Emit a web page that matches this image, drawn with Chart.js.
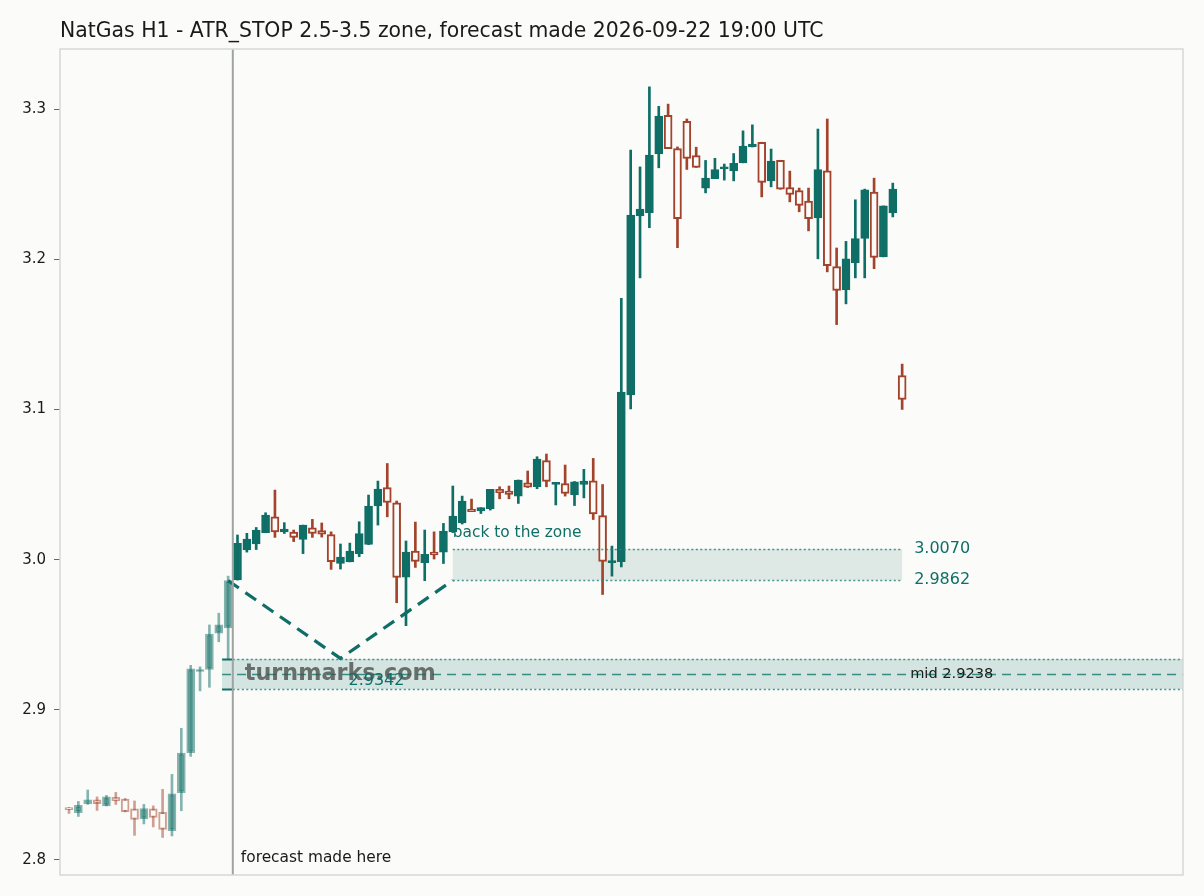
<!DOCTYPE html>
<html>
<head>
<meta charset="utf-8">
<title>NatGas H1 forecast</title>
<script src="https://cdn.jsdelivr.net/npm/chart.js@4.4.1/dist/chart.umd.min.js"></script>
<style>
  html, body { margin: 0; padding: 0; background: #fbfbf9; }
  #wrap { width: 1204px; height: 896px; }
</style>
</head>
<body>
<div id="wrap"><canvas id="natgasChart" width="1204" height="896"></canvas></div>
<script>
// hourly candles, index 0..89 (0..17 = history before the forecast time)
const opens  = [2.8340, 2.8315, 2.8375, 2.8400, 2.8360, 2.8417, 2.8406, 2.8340, 2.8274, 2.8340,
                2.8317, 2.8195, 2.8448, 2.8714, 2.9255, 2.9269, 2.9510, 2.9546, 2.9864, 3.0064,
                3.0104, 3.0179, 3.0285, 3.0185, 3.0184, 3.0134, 3.0212, 3.0194, 3.0167, 2.9975,
                2.9985, 3.0039, 3.0101, 3.0357, 3.0480, 3.0378, 2.9883, 3.0057, 2.9980, 3.0050,
                3.0049, 3.0185, 3.0245, 3.0337, 3.0325, 3.0340, 3.0468, 3.0457, 3.0423, 3.0511,
                3.0485, 3.0660, 3.0500, 3.0507, 3.0430, 3.0500, 3.0525, 3.0294, 2.9980, 2.9986,
                3.1096, 3.2289, 3.2310, 3.2702, 3.2959, 3.2737, 3.2918, 3.2691, 3.2473, 3.2537,
                3.2602, 3.2589, 3.2642, 3.2748, 3.2779, 3.2522, 3.2659, 3.2478, 3.2458, 3.2387,
                3.2276, 3.2588, 3.1952, 3.1797, 3.1976, 3.2139, 3.2447, 3.2016, 3.2309, 3.1226];
const highs  = [2.8350, 2.8390, 2.8466, 2.8420, 2.8430, 2.8450, 2.8410, 2.8393, 2.8370, 2.8360,
                2.8470, 2.8570, 2.8877, 2.9296, 2.9286, 2.9565, 2.9643, 2.9890, 3.0164, 3.0175,
                3.0214, 3.0312, 3.0463, 3.0246, 3.0197, 3.0230, 3.0268, 3.0244, 3.0185, 3.0104,
                3.0110, 3.0252, 3.0430, 3.0523, 3.0640, 3.0390, 3.0124, 3.0250, 3.0197, 3.0185,
                3.0241, 3.0490, 3.0423, 3.0403, 3.0346, 3.0468, 3.0485, 3.0490, 3.0530, 3.0590,
                3.0685, 3.0703, 3.0514, 3.0630, 3.0520, 3.0601, 3.0674, 3.0500, 3.0090, 3.1740,
                3.2727, 3.2615, 3.3148, 3.3018, 3.3033, 3.2748, 3.2934, 3.2746, 3.2658, 3.2672,
                3.2634, 3.2704, 3.2855, 3.2895, 3.2779, 3.2734, 3.2659, 3.2587, 3.2474, 3.2474,
                3.2867, 3.2934, 3.2075, 3.2119, 3.2396, 3.2467, 3.2540, 3.2355, 3.2507, 3.1302];
const lows   = [2.8310, 2.8290, 2.8370, 2.8330, 2.8360, 2.8370, 2.8320, 2.8164, 2.8240, 2.8220,
                2.8150, 2.8160, 2.8328, 2.8690, 2.9126, 2.9150, 2.9453, 2.9340, 2.9864, 3.0050,
                3.0067, 3.0179, 3.0148, 3.0174, 3.0120, 3.0040, 3.0148, 3.0150, 2.9935, 2.9937,
                2.9985, 3.0020, 3.0100, 3.0230, 3.0285, 2.9713, 2.9560, 2.9948, 2.9860, 3.0004,
                2.9974, 3.0180, 3.0237, 3.0320, 3.0307, 3.0330, 3.0405, 3.0405, 3.0374, 3.0480,
                3.0472, 3.0485, 3.0364, 3.0423, 3.0360, 3.0411, 3.0267, 2.9768, 2.9890, 2.9952,
                3.1003, 3.1876, 3.2210, 3.2609, 3.2737, 3.2077, 3.2598, 3.2611, 3.2442, 3.2537,
                3.2527, 3.2522, 3.2642, 3.2748, 3.2415, 3.2482, 3.2466, 3.2382, 3.2316, 3.2189,
                3.2003, 3.1916, 3.1565, 3.1703, 3.1876, 3.1876, 3.1937, 3.2016, 3.2282, 3.1000];
const closes = [2.8335, 2.8364, 2.8400, 2.8375, 2.8420, 2.8394, 2.8322, 2.8270, 2.8343, 2.8283,
                2.8204, 2.8440, 2.8712, 2.9272, 2.9265, 2.9505, 2.9565, 2.9860, 3.0108, 3.0137,
                3.0197, 3.0297, 3.0184, 3.0204, 3.0148, 3.0230, 3.0174, 3.0170, 2.9987, 3.0017,
                3.0057, 3.0174, 3.0357, 3.0470, 3.0381, 2.9881, 3.0050, 2.9988, 3.0035, 3.0032,
                3.0190, 3.0290, 3.0390, 3.0320, 3.0346, 3.0468, 3.0445, 3.0434, 3.0530, 3.0483,
                3.0670, 3.0520, 3.0514, 3.0440, 3.0518, 3.0523, 3.0304, 2.9988, 2.9988, 3.1116,
                3.2294, 3.2334, 3.2694, 3.2953, 3.2737, 3.2271, 3.2671, 3.2611, 3.2540, 3.2597,
                3.2611, 3.2638, 3.2754, 3.2767, 3.2511, 3.2654, 3.2466, 3.2431, 3.2358, 3.2271,
                3.2597, 3.1958, 3.1792, 3.2002, 3.2137, 3.2463, 3.2012, 3.2355, 3.2467, 3.1066];

const forecastIndex = 17.5;          // "forecast made here"
const yTicks = [2.8, 2.9, 3.0, 3.1, 3.2, 3.3];

// ATR stop band (2.5-3.5) and the "back to the zone" box
const bandMid = 2.9238, bandTop = 2.9338, bandBottom = 2.9138;
const bandStart = 16.35;
const zoneTop = 3.0070, zoneBottom = 2.9862;
const zoneStart = 41, zoneEnd = 89;

// dashed path: dip to the low then back to the zone
const pathX = [17, 29, 41];
const pathY = [2.9860, 2.9342, 2.9862];
const dipLow = 2.9342;

const TEAL = '15, 110, 102';
const RUST = '163, 67, 43';
const BG = '#fbfbf9';
const FONT = "'DejaVu Sans', 'Liberation Sans', sans-serif";

document.addEventListener('DOMContentLoaded', function() {
    const canvas = document.getElementById('natgasChart');

    const isPast = i => i < forecastIndex;
    const isUp = i => closes[i] >= opens[i];
    const candleColor = i => {
        const a = isPast(i) ? 0.5 : 1;
        return `rgba(${isUp(i) ? TEAL : RUST}, ${a})`;
    };

    const bodies = opens.map((o, i) => ({ x: i, y: [Math.min(o, closes[i]), Math.max(o, closes[i])] }));
    const wicks = highs.map((h, i) => ({ x: i, y: [lows[i], h] }));

    // background, plot frame, bands, labels
    const overlayPlugin = {
        id: 'overlay',
        beforeDraw(chart) {
            const c = chart.ctx;
            c.save();
            c.fillStyle = BG;
            c.fillRect(0, 0, chart.width, chart.height);
            c.restore();
        },
        beforeDatasetsDraw(chart) {
            const c = chart.ctx, x = chart.scales.x, y = chart.scales.y, area = chart.chartArea;
            c.save();
            // band fill
            const bx0 = x.getPixelForValue(bandStart);
            c.fillStyle = `rgba(${TEAL}, 0.16)`;
            c.fillRect(bx0, y.getPixelForValue(bandTop), area.right - bx0,
                       y.getPixelForValue(bandBottom) - y.getPixelForValue(bandTop));
            // zone box fill
            const zx0 = x.getPixelForValue(zoneStart), zx1 = x.getPixelForValue(zoneEnd);
            c.fillStyle = `rgba(${TEAL}, 0.12)`;
            c.fillRect(zx0, y.getPixelForValue(zoneTop), zx1 - zx0,
                       y.getPixelForValue(zoneBottom) - y.getPixelForValue(zoneTop));
            c.restore();
        },
        afterDatasetsDraw(chart) {
            const c = chart.ctx, x = chart.scales.x, y = chart.scales.y, area = chart.chartArea;
            const hline = (v, x0, x1, dash, color, w) => {
                const py = Math.round(y.getPixelForValue(v)) + 0.5;
                c.beginPath();
                c.setLineDash(dash);
                c.strokeStyle = color;
                c.lineWidth = w;
                c.moveTo(x0, py);
                c.lineTo(x1, py);
                c.stroke();
            };
            c.save();
            const bx0 = x.getPixelForValue(bandStart), fx = x.getPixelForValue(forecastIndex);
            // band edges
            hline(bandTop, bx0, fx, [], `rgb(${TEAL})`, 2);
            hline(bandBottom, bx0, fx, [], `rgb(${TEAL})`, 2);
            hline(bandTop, fx, area.right, [2, 2.5], 'rgba(40, 130, 122, 0.85)', 1.6);
            hline(bandBottom, fx, area.right, [2, 2.5], 'rgba(40, 130, 122, 0.85)', 1.6);
            hline(bandMid, bx0, area.right, [9, 6], 'rgba(40, 130, 122, 0.9)', 1.6);
            // zone box edges
            const zx0 = x.getPixelForValue(zoneStart), zx1 = x.getPixelForValue(zoneEnd);
            hline(zoneTop, zx0, zx1, [2, 2.5], 'rgba(40, 130, 122, 0.85)', 1.6);
            hline(zoneBottom, zx0, zx1, [2, 2.5], 'rgba(40, 130, 122, 0.85)', 1.6);

            // forecast time marker
            c.setLineDash([]);
            c.strokeStyle = '#9fa3a1';
            c.lineWidth = 2;
            c.beginPath();
            c.moveTo(fx, area.top);
            c.lineTo(fx, area.bottom);
            c.stroke();

            // watermark
            c.textBaseline = 'middle';
            c.textAlign = 'left';
            c.font = `bold 22.3px ${FONT}`;
            c.fillStyle = 'rgba(75, 80, 79, 0.8)';
            c.fillText('turnmarks.com', fx + 12, y.getPixelForValue(bandMid));

            // labels
            c.font = `16px ${FONT}`;
            c.fillStyle = `rgb(${TEAL})`;
            c.fillText(dipLow.toFixed(4), x.getPixelForValue(pathX[1]) + 8, y.getPixelForValue(dipLow) + 22);
            c.fillText(zoneTop.toFixed(4), zx1 + 12, y.getPixelForValue(zoneTop));
            c.fillText(zoneBottom.toFixed(4), zx1 + 12, y.getPixelForValue(zoneBottom));
            c.font = `15.4px ${FONT}`;
            c.fillText('back to the zone', zx0, y.getPixelForValue(zoneTop) - 16);
            c.fillStyle = '#1a1a1a';
            c.fillText('forecast made here', fx + 8, area.bottom - 17);
            c.font = `14.6px ${FONT}`;
            c.fillText('mid ' + bandMid.toFixed(4), zx1 + 8, y.getPixelForValue(bandMid));

            // plot frame
            c.strokeStyle = '#d6d9d7';
            c.lineWidth = 1.5;
            c.strokeRect(area.left, area.top, area.right - area.left, area.bottom - area.top);

            // title
            c.font = `20.4px ${FONT}`;
            c.fillStyle = '#1a1a1a';
            c.fillText('NatGas H1 - ATR_STOP 2.5-3.5 zone, forecast made 2026-09-22 19:00 UTC', area.left, 32);
            c.restore();
        }
    };

    new Chart(canvas, {
        type: 'bar',
        data: {
            datasets: [
                {
                    type: 'line',
                    label: 'path',
                    data: pathX.map((v, i) => ({ x: v, y: pathY[i] })),
                    borderColor: `rgb(${TEAL})`,
                    borderWidth: 3.2,
                    borderDash: [13, 8],
                    pointRadius: 0,
                    fill: false,
                    order: 0
                },
                {
                    label: 'body',
                    data: bodies,
                    backgroundColor: opens.map((o, i) => isUp(i) ? candleColor(i) : BG),
                    borderColor: opens.map((o, i) => candleColor(i)),
                    borderWidth: 2,
                    borderSkipped: false,
                    barThickness: 8,
                    minBarLength: 2,
                    grouped: false,
                    order: 1
                },
                {
                    label: 'wick',
                    data: wicks,
                    backgroundColor: opens.map((o, i) => candleColor(i)),
                    borderWidth: 0,
                    barThickness: 2,
                    grouped: false,
                    order: 2
                }
            ]
        },
        options: {
            responsive: false,
            animation: false,
            layout: { padding: { top: 49, right: 21, bottom: 21, left: 0 } },
            plugins: {
                legend: { display: false },
                tooltip: { enabled: false },
                title: { display: false }
            },
            scales: {
                x: {
                    type: 'linear',
                    min: -0.96,
                    max: 119.0,
                    offset: false,
                    display: false
                },
                y: {
                    min: 2.79,
                    max: 3.34,
                    beginAtZero: false,
                    afterFit: function(scale) { scale.width = 60; },
                    afterBuildTicks: function(scale) { scale.ticks = yTicks.map(v => ({ value: v })); },
                    ticks: {
                        callback: v => v.toFixed(1),
                        color: '#1a1a1a',
                        font: { family: FONT, size: 15 },
                        padding: 8
                    },
                    grid: { drawOnChartArea: false, tickLength: 6, color: '#666', lineWidth: 1 },
                    border: { display: false }
                }
            }
        },
        plugins: [overlayPlugin]
    });
});
</script>
</body>
</html>
